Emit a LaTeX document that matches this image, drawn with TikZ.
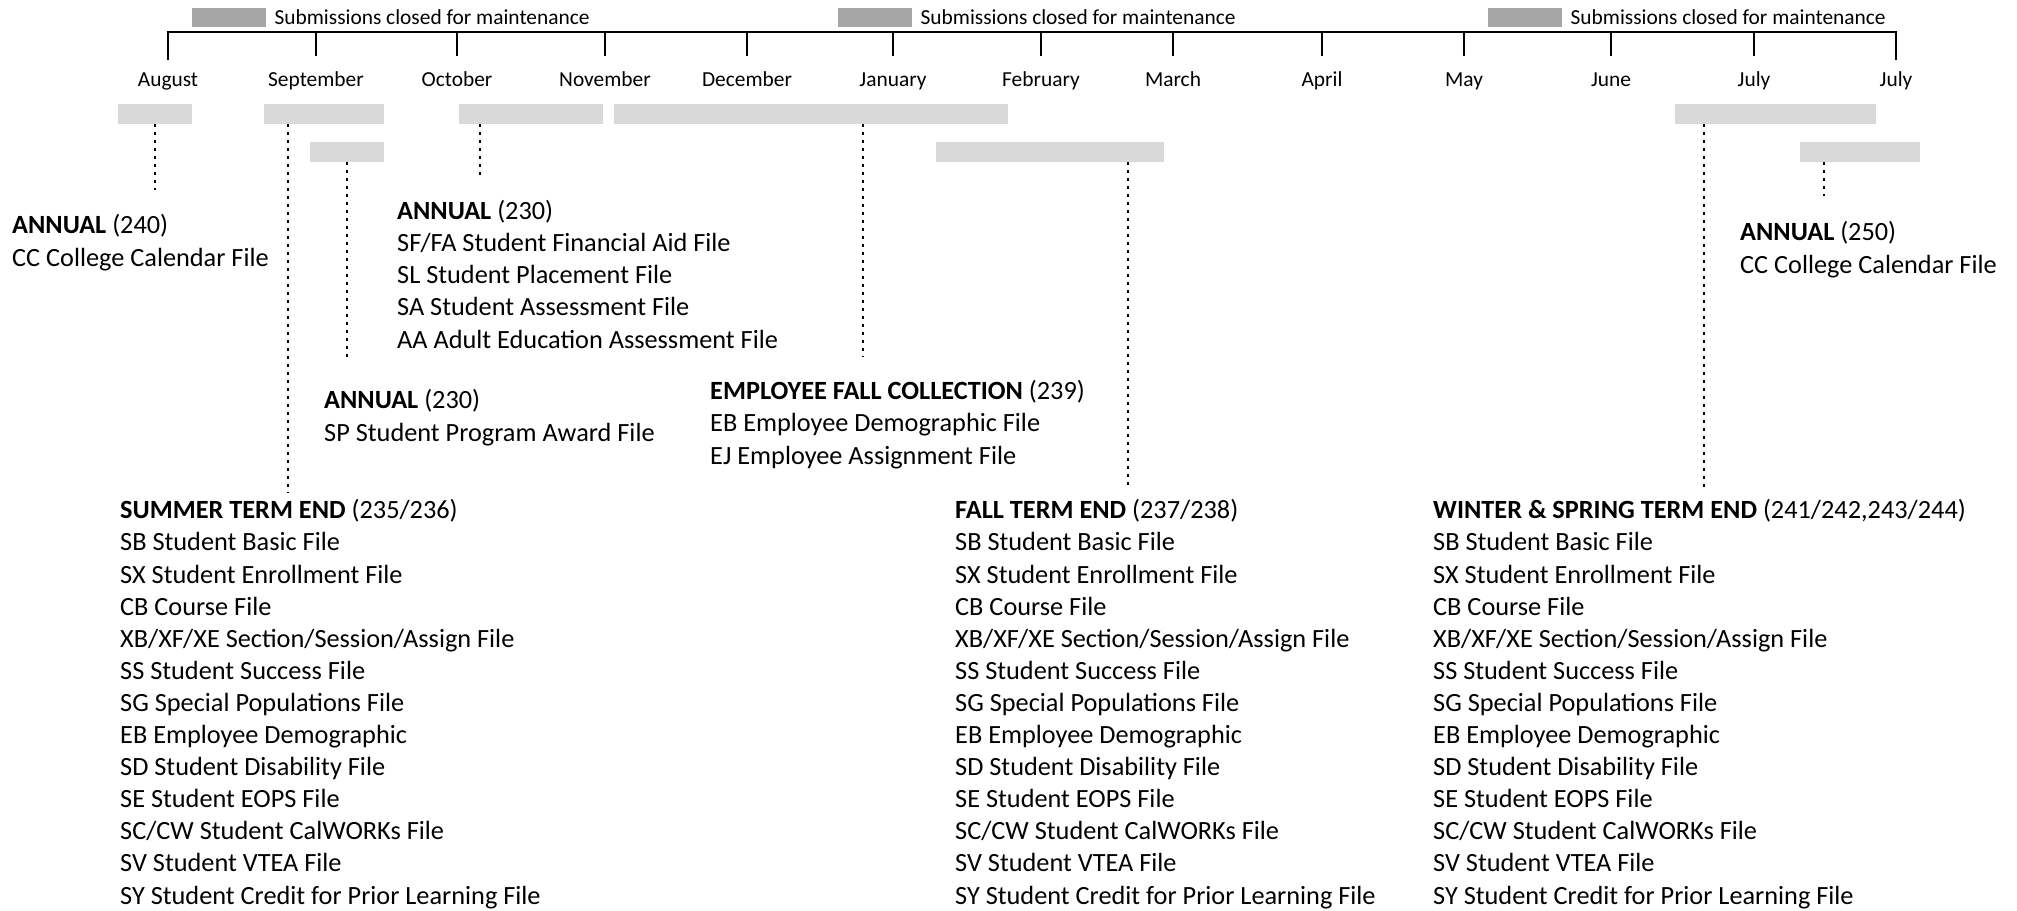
\documentclass[tikz,border=0pt]{standalone}
\usepackage{fontspec}
\setmainfont{Carlito}
\usetikzlibrary{positioning,calc}

\definecolor{closedgray}{HTML}{A6A6A6}
\definecolor{windowgray}{HTML}{D9D9D9}

% the file list that is sent at each term end
\newcommand{\termfiles}{SB Student Basic File\\
SX Student Enrollment File\\
CB Course File\\
XB/XF/XE Section/Session/Assign File\\
SS Student Success File\\
SG Special Populations File\\
EB Employee Demographic\\
SD Student Disability File\\
SE Student EOPS File\\
SC/CW Student CalWORKs File\\
SV Student VTEA File\\
SY Student Credit for Prior Learning File}

\begin{document}
\begin{tikzpicture}[x=1pt, y=-1pt, node distance=8pt,
    axis/.style={line width=2pt},
    month/.style={anchor=base, inner sep=0pt, font=\fontsize{21.4}{25}\selectfont},
    legendbox/.style={fill=closedgray, minimum width=74pt, minimum height=19pt, inner sep=0pt, anchor=west},
    legendtext/.style={inner sep=0pt, font=\fontsize{21.4}{25}\selectfont},
    window/.style={fill=windowgray, minimum height=20pt, inner sep=0pt, anchor=north west},
    leader/.style={line width=2.2pt, dash pattern=on 2.2pt off 5.8pt},
    files/.style={anchor=base west, align=left, inner sep=0pt, font=\fontsize{26.3}{32.1}\selectfont}]
    \useasboundingbox (0,0) rectangle (2017,910);

    % legend above the time line
    \node[legendbox] (closed1) at (192,17) {};
    \node[legendtext, right=of closed1] (closed1txt) {Submissions closed for maintenance};
    \node[legendbox] (closed2) at (838,17) {};
    \node[legendtext, right=of closed2] (closed2txt) {Submissions closed for maintenance};
    \node[legendbox] (closed3) at (1488,17) {};
    \node[legendtext, right=of closed3] (closed3txt) {Submissions closed for maintenance};

    % time line
    \draw[axis] (168,60) -- (168,32) -- (1896,32) -- (1896,60);
    \draw[axis] (316,32) -- (316,56) (457,32) -- (457,56) (605,32) -- (605,56)
        (747,32) -- (747,56) (893,32) -- (893,56) (1041,32) -- (1041,56)
        (1173,32) -- (1173,56) (1322,32) -- (1322,56) (1464,32) -- (1464,56)
        (1611,32) -- (1611,56) (1754,32) -- (1754,56);
    \node[month] (aug) at (168,86) {August};
    \node[month] (sep) at (316,86) {September};
    \node[month] (oct) at (457,86) {October};
    \node[month] (nov) at (605,86) {November};
    \node[month] (dec) at (747,86) {December};
    \node[month] (jan) at (893,86) {January};
    \node[month] (feb) at (1041,86) {February};
    \node[month] (mar) at (1173,86) {March};
    \node[month] (apr) at (1322,86) {April};
    \node[month] (may) at (1464,86) {May};
    \node[month] (jun) at (1611,86) {June};
    \node[month] (jul) at (1754,86) {July};
    \node[month] (julend) at (1896,86) {July};

    % submission windows
    \node[window, minimum width=74pt] (augbar) at (118,104) {};
    \node[window, minimum width=120pt] (sepbar) at (264,104) {};
    \node[window, minimum width=74pt] (sepbarb) at (310,142) {};
    \node[window, minimum width=144pt] (octbar) at (459,104) {};
    \node[window, minimum width=394pt] (janbar) at (614,104) {};
    \node[window, minimum width=228pt] (febbar) at (936,142) {};
    \node[window, minimum width=201pt] (julbar) at (1675,104) {};
    \node[window, minimum width=120pt] (julbarb) at (1800,142) {};

    % collections (placed at the baseline of their last line)
    \node[files] (annual240) at (12,266) {\textbf{ANNUAL} (240)\\CC College Calendar File};
    \node[files] (annual230) at (397,348) {\textbf{ANNUAL} (230)\\SF/FA Student Financial Aid File\\SL Student Placement File\\SA Student Assessment File\\AA Adult Education Assessment File};
    \node[files] (award230) at (324,441) {\textbf{ANNUAL} (230)\\SP Student Program Award File};
    \node[files] (employee) at (710,464) {\textbf{EMPLOYEE FALL COLLECTION} (239)\\EB Employee Demographic File\\EJ Employee Assignment File};
    \node[files] (summer) at (120,904) {\textbf{SUMMER TERM END} (235/236)\\\termfiles};
    \node[files] (fall) at (955,904) {\textbf{FALL TERM END} (237/238)\\\termfiles};
    \node[files] (winter) at (1433,904) {\textbf{WINTER \& SPRING TERM END} (241/242,243/244)\\\termfiles};
    \node[files] (annual250) at (1740,273) {\textbf{ANNUAL} (250)\\CC College Calendar File};

    % dotted leaders from the windows
    \coordinate (augend) at (155,190);
    \coordinate (sepend) at (288,493);
    \coordinate (sepbend) at (347,360);
    \coordinate (octend) at (480,175);
    \coordinate (janend) at (863,357);
    \coordinate (febend) at (1128,489);
    \coordinate (julend) at (1704,490);
    \coordinate (julbend) at (1824,196);
    \draw[leader] (augbar.south -| augend) -- (augend);
    \draw[leader] (sepbar.south -| sepend) -- (sepend);
    \draw[leader] (sepbarb.south -| sepbend) -- (sepbend);
    \draw[leader] (octbar.south -| octend) -- (octend);
    \draw[leader] (janbar.south -| janend) -- (janend);
    \draw[leader] (febbar.south -| febend) -- (febend);
    \draw[leader] (julbar.south -| julend) -- (julend);
    \draw[leader] (julbarb.south -| julbend) -- (julbend);
\end{tikzpicture}
\end{document}
